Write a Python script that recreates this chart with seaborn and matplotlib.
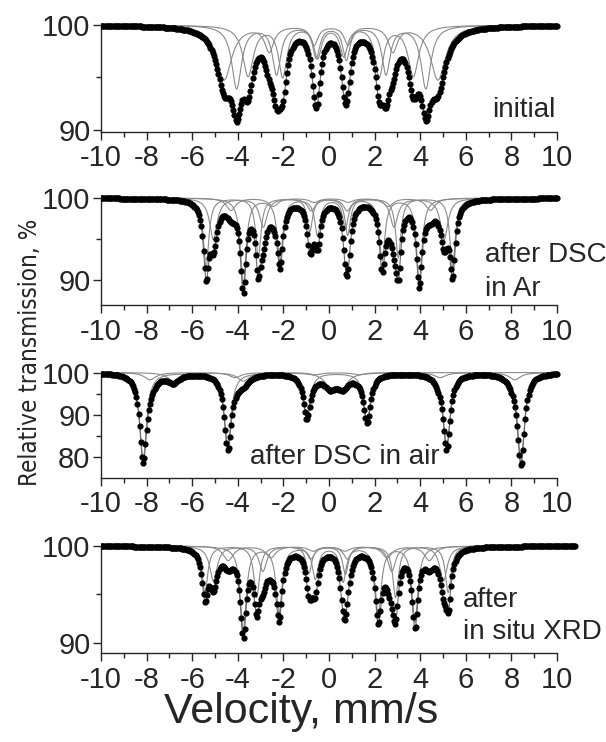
import numpy as np
import pandas as pd
import matplotlib
matplotlib.use("Agg")
import matplotlib.pyplot as plt
import seaborn as sns
from matplotlib import font_manager
from matplotlib.ticker import FixedLocator

# ---------------- DATA ---------------- #
# every subspectrum = list of Lorentzian lines: position (mm/s), depth (%), half width (mm/s)

# initial (broad outer lines, narrower inner lines)
init_pos = [[-4.05, -2.30, -0.56, 0.76, 2.50, 4.25],
            [-4.60, -2.62, -0.65, 0.83, 2.80, 4.78],
            [-3.55, -2.03, -0.50, 0.65, 2.20, 3.70]]
init_depth = [[6.0, 4.6, 3.0, 3.2, 4.6, 6.0],
              [5.2, 2.4, 1.8, 1.8, 2.4, 5.2],
              [4.8, 4.8, 3.0, 2.8, 4.8, 4.8]]
init_hwhm = [[0.26, 0.22, 0.19, 0.19, 0.22, 0.26],
             [0.40, 0.24, 0.20, 0.20, 0.24, 0.40],
             [0.28, 0.22, 0.20, 0.20, 0.22, 0.28]]

# after DSC in Ar
ar_pos = [[-5.39, -3.10, -0.84, 0.82, 3.04, 5.42],
          [-3.76, -2.15, -0.50, 0.72, 2.33, 3.96],
          [-5.07, -2.88, -0.78, 0.80, 2.85, 5.05],
          [-4.30, -2.45, -0.65, 0.85, 2.60, 4.45]]
ar_depth = [[8.5, 7.2, 4.0, 4.5, 7.2, 8.5],
            [10.5, 7.5, 4.5, 3.5, 7.5, 10.0],
            [5.0, 3.5, 1.5, 1.5, 3.5, 5.0],
            [1.5, 1.0, 0.5, 0.5, 1.0, 1.5]]
ar_hwhm = [0.14, 0.15, 0.20, 0.25]

# after DSC in air
air_pos = [[-8.15, -4.44, -0.97, 1.67, 5.16, 8.42],
           [-7.85, -4.12, -0.60, 1.30, 4.87, 8.15],
           [-6.83, -3.76, 0.05, 0.60]]
air_depth = [[20.5, 17.5, 10.5, 11.5, 17.5, 21.0],
             [1.7, 1.2, 0.5, 0.5, 1.2, 1.7],
             [2.0, 2.0, 3.0, 3.0]]
air_hwhm = [0.18, 0.30, 0.30]

# after in situ XRD
xrd_pos = [[-5.44, -3.17, -0.88, 0.72, 2.92, 5.23],
           [-3.76, -2.19, -0.60, 0.62, 2.16, 3.77],
           [-5.07, -2.90, -0.80, 0.80, 2.75, 5.02],
           [-4.42, -2.55, -0.70, 0.70, 2.55, 4.40]]
xrd_depth = [[4.8, 5.3, 2.8, 2.9, 5.3, 4.8],
             [8.6, 6.8, 3.3, 3.6, 7.0, 7.8],
             [3.6, 2.6, 1.3, 1.3, 2.6, 3.6],
             [1.5, 1.2, 0.5, 0.5, 1.2, 1.5]]
xrd_hwhm = [0.15, 0.16, 0.20, 0.26]

# velocity span of the recorded channels
v_span = [(-10.0, 10.0), (-10.0, 10.0), (-10.0, 10.0), (-10.0, 10.8)]
v_step = 0.05

labels = [["initial"], ["after DSC", "in Ar"], ["after DSC in air"], ["after", "in situ XRD"]]

# ---------------- LAYOUT ---------------- #
W, H = 606, 742
x_left, x_right = 101.0, 579.8          # pixels for -10 ... 11
panel_px = [(20.8, 132.0), (194.7, 305.0), (370.0, 478.0), (542.0, 653.3)]
ylims = [(89.8, 100.4), (87.0, 100.4), (75.0, 100.6), (88.9, 100.4)]
yticks = [[90, 100], [90, 100], [80, 90, 100], [90, 100]]
yminor = [[95], [95], [85, 95], [95]]
label_xy = [[(9.95, 91.9, 'right')],
            [(6.84, 93.05, 'left'), (6.84, 89.0, 'left')],
            [(0.70, 79.9, 'center')],
            [(5.88, 94.4, 'left'), (5.88, 91.1, 'left')]]

sns.set_style("ticks")
plt.rcParams['font.family'] = ['Liberation Sans', 'DejaVu Sans']
plt.rcParams['axes.unicode_minus'] = False
plt.rcParams['axes.linewidth'] = 1.0

# a condensed sans face for the y label, if one is installed
cond = None
for f in font_manager.fontManager.ttflist:
    narrowish = ('condensed' in str(f.stretch) or 'Narrow' in f.name or 'Condensed' in f.name)
    if narrowish and f.style == 'normal' and f.weight in (400, 'normal', 'regular') \
            and 'Mono' not in f.name and 'Serif' not in f.name:
        cond = f
        break
ylab_font = (font_manager.FontProperties(fname=cond.fname) if cond is not None
             else font_manager.FontProperties(family='Liberation Sans'))

fig = plt.figure(figsize=(W / 100, H / 100), dpi=100)


def lines_sum(v, pos, depth, hwhm):
    out = np.zeros_like(v)
    widths = np.broadcast_to(np.asarray(hwhm, dtype=float), (len(pos),))
    for p, d, w in zip(pos, depth, widths):
        out += d / (1 + ((v - p) / w) ** 2)
    return out


panels = [(init_pos, init_depth, init_hwhm),
          (ar_pos, ar_depth, ar_hwhm),
          (air_pos, air_depth, air_hwhm),
          (xrd_pos, xrd_depth, xrd_hwhm)]

for i, (pos, depth, hwhm) in enumerate(panels):
    top, bot = panel_px[i]
    ax = fig.add_axes([x_left / W, 1 - bot / H, (x_right - x_left) / W, (bot - top) / H])
    ax.patch.set_alpha(0)

    v = np.arange(v_span[i][0], v_span[i][1] + 1e-9, v_step)
    vf = np.linspace(v_span[i][0], v_span[i][1], 2000)

    comp_rows = []
    total = np.zeros_like(vf)
    total_pts = np.zeros_like(v)
    for k, (p, d, w) in enumerate(zip(pos, depth, hwhm)):
        a = lines_sum(vf, p, d, w)
        total += a
        total_pts += lines_sum(v, p, d, w)
        comp_rows.append(pd.DataFrame({'velocity': vf, 'T': 100 - a, 'comp': k}))
    comp_df = pd.concat(comp_rows)
    fit_df = pd.DataFrame({'velocity': vf, 'T': 100 - total})
    pts_df = pd.DataFrame({'velocity': v, 'T': 100 - total_pts})

    sns.lineplot(data=comp_df, x='velocity', y='T', units='comp', estimator=None,
                 color='#8a8a8a', lw=0.8, ax=ax, legend=False)
    sns.lineplot(data=fit_df, x='velocity', y='T', color='#6a6a6a', lw=0.8, ax=ax)
    sns.scatterplot(data=pts_df, x='velocity', y='T', color='black', s=20,
                    linewidth=0, ax=ax, zorder=3)

    ax.set_xlim(-10, 11)
    ax.set_ylim(*ylims[i])
    sns.despine(ax=ax)
    ax.spines['left'].set_bounds(ylims[i][0], 100)
    ax.spines['bottom'].set_bounds(-10, 10)
    ax.xaxis.set_major_locator(FixedLocator(list(range(-10, 11, 2))))
    ax.xaxis.set_minor_locator(FixedLocator(list(range(-9, 10, 2))))
    ax.yaxis.set_major_locator(FixedLocator(yticks[i]))
    ax.yaxis.set_minor_locator(FixedLocator(yminor[i]))
    ax.tick_params(which='major', direction='out', length=6, width=1.0, labelsize=21)
    ax.tick_params(which='minor', direction='out', length=3.5, width=1.0)
    ax.tick_params(axis='x', pad=3)
    ax.tick_params(axis='y', pad=1.5)
    ax.set_xlabel('')
    ax.set_ylabel('')

    for txt, (tx, ty, ha) in zip(labels[i], label_xy[i]):
        ax.text(tx, ty, txt, ha=ha, va='center', fontsize=20)

fig.text(0.497, 19 / H, 'Velocity, mm/s', ha='center', va='baseline', fontsize=31)
ylab = fig.text(30 / W, 1 - 352 / H, 'Relative transmission, %', rotation=90,
                ha='center', va='center', fontproperties=ylab_font)
ylab.set_fontsize(17.5)

# scale the y label so that it spans about the same length as in the picture
fig.canvas.draw()
ext = ylab.get_window_extent(fig.canvas.get_renderer())
ylab.set_fontsize(17.5 * 268.0 / ext.height)

fig.savefig('out.png', dpi=100)
